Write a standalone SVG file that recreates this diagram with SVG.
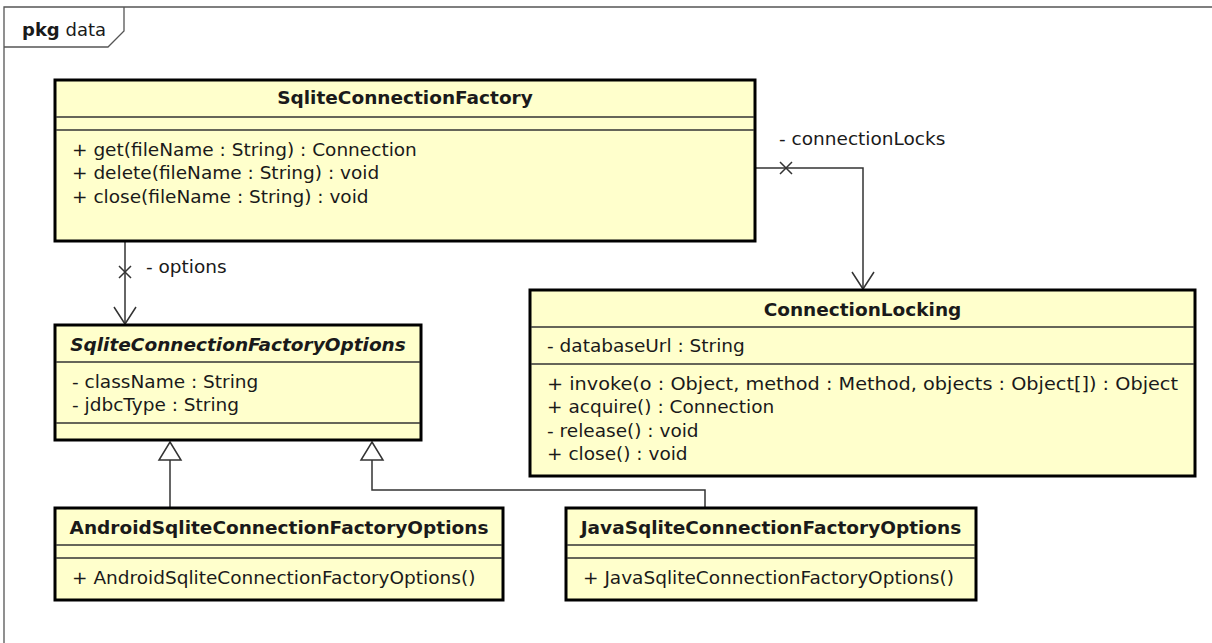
<svg xmlns="http://www.w3.org/2000/svg" width="1212" height="643" viewBox="0 0 1212 643">
  <defs>
    <style>
      .frame { fill: none; stroke: #555; stroke-width: 1.3; }
      .box { fill: #ffffcc; stroke: #000; stroke-width: 3; }
      .sep { stroke: #333; stroke-width: 1.5; }
      .edge { fill: none; stroke: #333; stroke-width: 1.5; }
      .hollow { fill: #fff; stroke: #333; stroke-width: 1.5; stroke-linejoin: miter; }
      text { font-family: "DejaVu Sans", "Liberation Sans", sans-serif; font-size: 18.5px; fill: #1a1a1a; }
      .title { font-weight: bold; text-anchor: middle; }
      .abstract { font-style: italic; }
      .pkgname { font-size: 18px; }
    </style>
  </defs>

  <rect width="1212" height="643" fill="#fff"/>

  <!-- package frame with name tab -->
  <g id="pkg-data">
    <path class="frame" d="M4,660 L4,7 L1230,7"/>
    <path class="frame" d="M4,47 L108,47 L124,31 L124,7"/>
    <text class="pkgname" x="22" y="36"><tspan font-weight="bold">pkg</tspan> data</text>
  </g>

  <!-- associations and generalizations -->
  <g id="connectors">
    <!-- SqliteConnectionFactory -> SqliteConnectionFactoryOptions (options) -->
    <path class="edge" d="M125,242 L125,324"/>
    <path class="edge" d="M119,266 L131,278 M131,266 L119,278"/>
    <path class="edge" d="M114,307 L125,324 L136,307"/>
    <text x="146" y="273">- options</text>

    <!-- SqliteConnectionFactory -> ConnectionLocking (connectionLocks) -->
    <path class="edge" d="M756,168 L863,168 L863,289"/>
    <path class="edge" d="M780,162 L792,174 M792,162 L780,174"/>
    <path class="edge" d="M852,272 L863,289 L874,272"/>
    <text x="779" y="145">- connectionLocks</text>

    <!-- AndroidSqliteConnectionFactoryOptions -> SqliteConnectionFactoryOptions -->
    <path class="edge" d="M170,507 L170,460"/>
    <path class="hollow" d="M170,442 L181,460 L159,460 Z"/>

    <!-- JavaSqliteConnectionFactoryOptions -> SqliteConnectionFactoryOptions -->
    <path class="edge" d="M705,507 L705,490 L372,490 L372,460"/>
    <path class="hollow" d="M372,442 L383,460 L361,460 Z"/>
  </g>

  <g id="SqliteConnectionFactory">
    <rect class="box" x="55" y="80" width="700" height="161"/>
    <line class="sep" x1="56" y1="117" x2="754" y2="117"/>
    <line class="sep" x1="56" y1="130" x2="754" y2="130"/>
    <text class="title" x="405" y="104">SqliteConnectionFactory</text>
    <text x="72" y="156">+ get(fileName : String) : Connection</text>
    <text x="72" y="179">+ delete(fileName : String) : void</text>
    <text x="72" y="203">+ close(fileName : String) : void</text>
  </g>

  <g id="SqliteConnectionFactoryOptions">
    <rect class="box" x="55" y="325" width="366" height="115"/>
    <line class="sep" x1="56" y1="362" x2="420" y2="362"/>
    <line class="sep" x1="56" y1="423" x2="420" y2="423"/>
    <text class="title abstract" x="238" y="351">SqliteConnectionFactoryOptions</text>
    <text x="72" y="388">- className : String</text>
    <text x="72" y="411">- jdbcType : String</text>
  </g>

  <g id="ConnectionLocking">
    <rect class="box" x="530" y="290" width="665" height="186"/>
    <line class="sep" x1="531" y1="327" x2="1194" y2="327"/>
    <line class="sep" x1="531" y1="364" x2="1194" y2="364"/>
    <text class="title" x="862.5" y="316">ConnectionLocking</text>
    <text x="547" y="352">- databaseUrl : String</text>
    <text x="547" y="390" textLength="631" lengthAdjust="spacingAndGlyphs">+ invoke(o : Object, method : Method, objects : Object[]) : Object</text>
    <text x="547" y="413">+ acquire() : Connection</text>
    <text x="547" y="437">- release() : void</text>
    <text x="547" y="460">+ close() : void</text>
  </g>

  <g id="AndroidSqliteConnectionFactoryOptions">
    <rect class="box" x="55" y="508" width="448" height="92"/>
    <line class="sep" x1="56" y1="545" x2="502" y2="545"/>
    <line class="sep" x1="56" y1="558" x2="502" y2="558"/>
    <text class="title" x="279" y="534">AndroidSqliteConnectionFactoryOptions</text>
    <text x="72" y="584">+ AndroidSqliteConnectionFactoryOptions()</text>
  </g>

  <g id="JavaSqliteConnectionFactoryOptions">
    <rect class="box" x="566" y="508" width="410" height="92"/>
    <line class="sep" x1="567" y1="545" x2="975" y2="545"/>
    <line class="sep" x1="567" y1="558" x2="975" y2="558"/>
    <text class="title" x="771" y="534">JavaSqliteConnectionFactoryOptions</text>
    <text x="583" y="584">+ JavaSqliteConnectionFactoryOptions()</text>
  </g>
</svg>
